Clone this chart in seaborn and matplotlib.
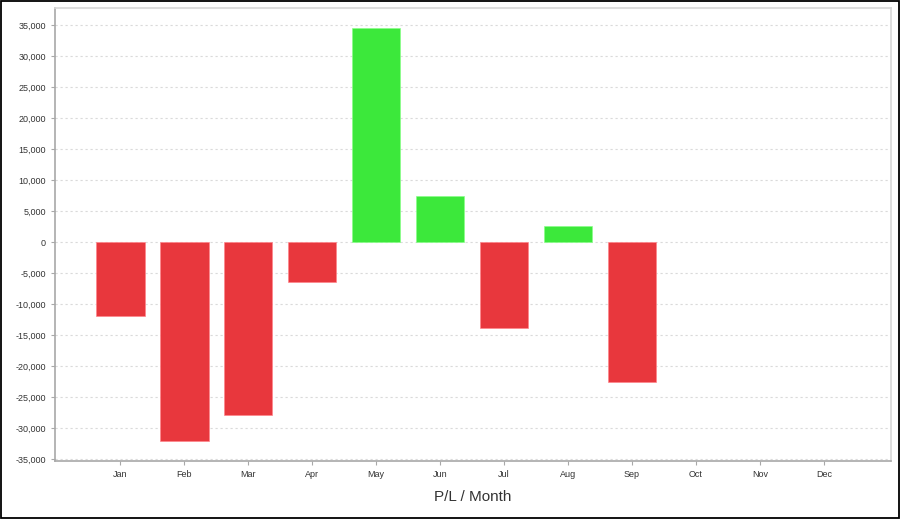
import numpy as np
import pandas as pd
import seaborn as sns
import matplotlib.pyplot as plt
from matplotlib.patches import Rectangle
from matplotlib.ticker import FuncFormatter, MultipleLocator

months = ['Jan', 'Feb', 'Mar', 'Apr', 'May', 'Jun', 'Jul', 'Aug', 'Sep', 'Oct', 'Nov', 'Dec']
pl = [-11900, -32000, -27900, -6400, 34600, 7400, -13900, 2600, -22600, 0, 0, 0]

df = pd.DataFrame({'month': months, 'pl': pl})
df['sign'] = np.where(df['pl'] >= 0, 'gain', 'loss')

sns.set_style('white')
plt.rcParams['font.family'] = ['Liberation Sans', 'DejaVu Sans']

fig = plt.figure(figsize=(9, 5.19), dpi=100)
ax = fig.add_axes([55 / 900, 1 - 461 / 519, (891 - 55) / 900, (461 - 8) / 519])

sns.barplot(data=df, x='month', y='pl', hue='sign', dodge=False, width=0.76,
            palette={'gain': '#3ce83b', 'loss': '#e8373d'}, order=months,
            saturation=1, linewidth=0.6, edgecolor='none', legend=False, ax=ax)
# lighter rim around each bar, as in the original renderer
for bar in ax.patches:
    if bar.get_height() == 0:
        bar.set_edgecolor('none')
        continue
    fc = bar.get_facecolor()
    bar.set_edgecolor((min(fc[0] + 0.3, 1), min(fc[1] + 0.3, 1), min(fc[2] + 0.3, 1), 0.8))

ax.set_xlim(-1.02, 12.05)
ax.set_ylim(-35300, 37800)
ax.yaxis.set_major_locator(MultipleLocator(5000))
ax.yaxis.set_major_formatter(FuncFormatter(lambda v, p: f'{int(v):,}'))
ax.grid(axis='y', color='#dadada', linestyle=(0, (2, 2.5)), linewidth=0.8)
ax.set_axisbelow(True)

for s in ['left', 'bottom']:
    ax.spines[s].set_color('#a8a8a8')
    ax.spines[s].set_linewidth(1.2)
for s in ['top', 'right']:
    ax.spines[s].set_color('#d8d8d8')
    ax.spines[s].set_linewidth(1.2)

ax.tick_params(axis='both', labelsize=6.5, colors='#333333', length=3, width=0.8,
               direction='out', left=True, bottom=True)
ax.tick_params(axis='both', color='#a8a8a8')
ax.set_xlabel('P/L / Month', fontsize=11, color='#333333', labelpad=8)
ax.set_ylabel('')

# outer black frame
fig.patches.append(Rectangle((0.001, 0.0015), 0.998, 0.997, transform=fig.transFigure,
                             fill=False, edgecolor='black', linewidth=1.3))

fig.savefig('out.png', dpi=100)
